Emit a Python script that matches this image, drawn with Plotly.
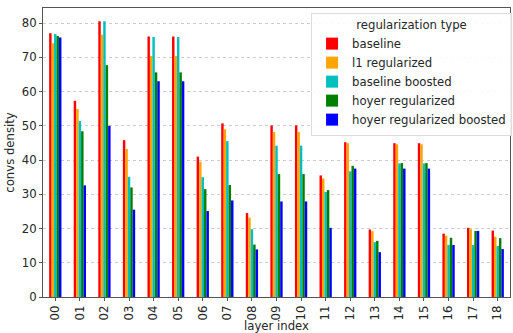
import plotly.graph_objects as go

layers = ["00", "01", "02", "03", "04", "05", "06", "07", "08", "09",
          "10", "11", "12", "13", "14", "15", "16", "17", "18"]

baseline = [77.0, 57.3, 80.5, 45.8, 76.1, 76.1, 41.0, 50.7, 24.5, 50.1,
            50.1, 35.5, 45.2, 19.7, 44.9, 44.9, 18.5, 20.2, 19.4]
l1_regularized = [74.1, 54.9, 76.6, 43.2, 70.4, 70.4, 39.5, 49.0, 23.2, 48.2,
                  48.2, 34.6, 44.9, 19.2, 44.6, 44.6, 17.9, 19.8, 17.6]
baseline_boosted = [76.8, 51.4, 80.5, 35.1, 75.9, 75.9, 35.0, 45.5, 19.8, 44.2,
                    44.2, 30.7, 36.7, 16.0, 39.0, 39.0, 15.2, 15.2, 14.9]
hoyer_regularized = [76.2, 48.4, 67.7, 32.0, 65.6, 65.6, 31.5, 32.7, 15.3, 35.9,
                     35.9, 31.2, 38.3, 16.4, 39.1, 39.1, 17.3, 19.3, 17.2]
hoyer_regularized_boosted = [75.8, 32.6, 50.0, 25.5, 63.0, 63.0, 25.1, 28.2, 13.9, 27.9,
                             27.9, 20.2, 37.5, 13.1, 37.5, 37.5, 15.2, 19.3, 14.0]

series_names = ["baseline", "l1 regularized", "baseline boosted",
                "hoyer regularized", "hoyer regularized boosted"]
series_values = [baseline, l1_regularized, baseline_boosted,
                 hoyer_regularized, hoyer_regularized_boosted]
colors = ["#FF0000", "#FFA500", "#00BFBF", "#008000", "#0000FF"]

FONT = "DejaVu Sans"
FS = 11.7

fig = go.Figure()
for name, vals, col in zip(series_names, series_values, colors):
    fig.add_trace(go.Bar(x=layers, y=vals, name=name, marker_color=col,
                         marker_line_width=0))

fig.update_layout(
    width=513, height=333,
    margin=dict(l=43, r=1, t=8, b=36),
    paper_bgcolor="white", plot_bgcolor="white",
    font=dict(family=FONT, size=FS, color="#262626"),
    barmode="group", bargap=0.5, bargroupgap=0,
    legend=dict(
        title=dict(text="regularization type", side="top center",
                   font=dict(family=FONT, size=FS)),
        x=0.574, y=0.983, xanchor="left", yanchor="top",
        bgcolor="rgba(255,255,255,0.9)", bordercolor="#dddddd", borderwidth=1,
        font=dict(family=FONT, size=FS), tracegroupgap=0,
    ),
    showlegend=True,
)
fig.update_xaxes(
    title=dict(text="layer index", font=dict(size=FS), standoff=2),
    tickangle=-90, tickfont=dict(size=FS),
    showline=True, mirror=True, linecolor="#555555", linewidth=1,
    ticks="outside", ticklen=3, tickcolor="#555555",
    showgrid=False, range=[-0.5, 18.5],
)
fig.update_yaxes(
    title=dict(text="convs density", font=dict(size=FS), standoff=4),
    range=[0, 84.4], dtick=10, tickfont=dict(size=FS),
    showline=True, mirror=True, linecolor="#555555", linewidth=1,
    ticks="outside", ticklen=3, tickcolor="#555555",
    showgrid=True, gridcolor="#cccccc", griddash="dot", gridwidth=1,
    zeroline=False,
)

fig.write_html("out.html", config={"displayModeBar": False})

with open("out.html", "r", encoding="utf-8") as f:
    html = f.read()
html = html.replace("<body>", '<body style="margin:0;padding:0;">', 1)
with open("out.html", "w", encoding="utf-8") as f:
    f.write(html)
